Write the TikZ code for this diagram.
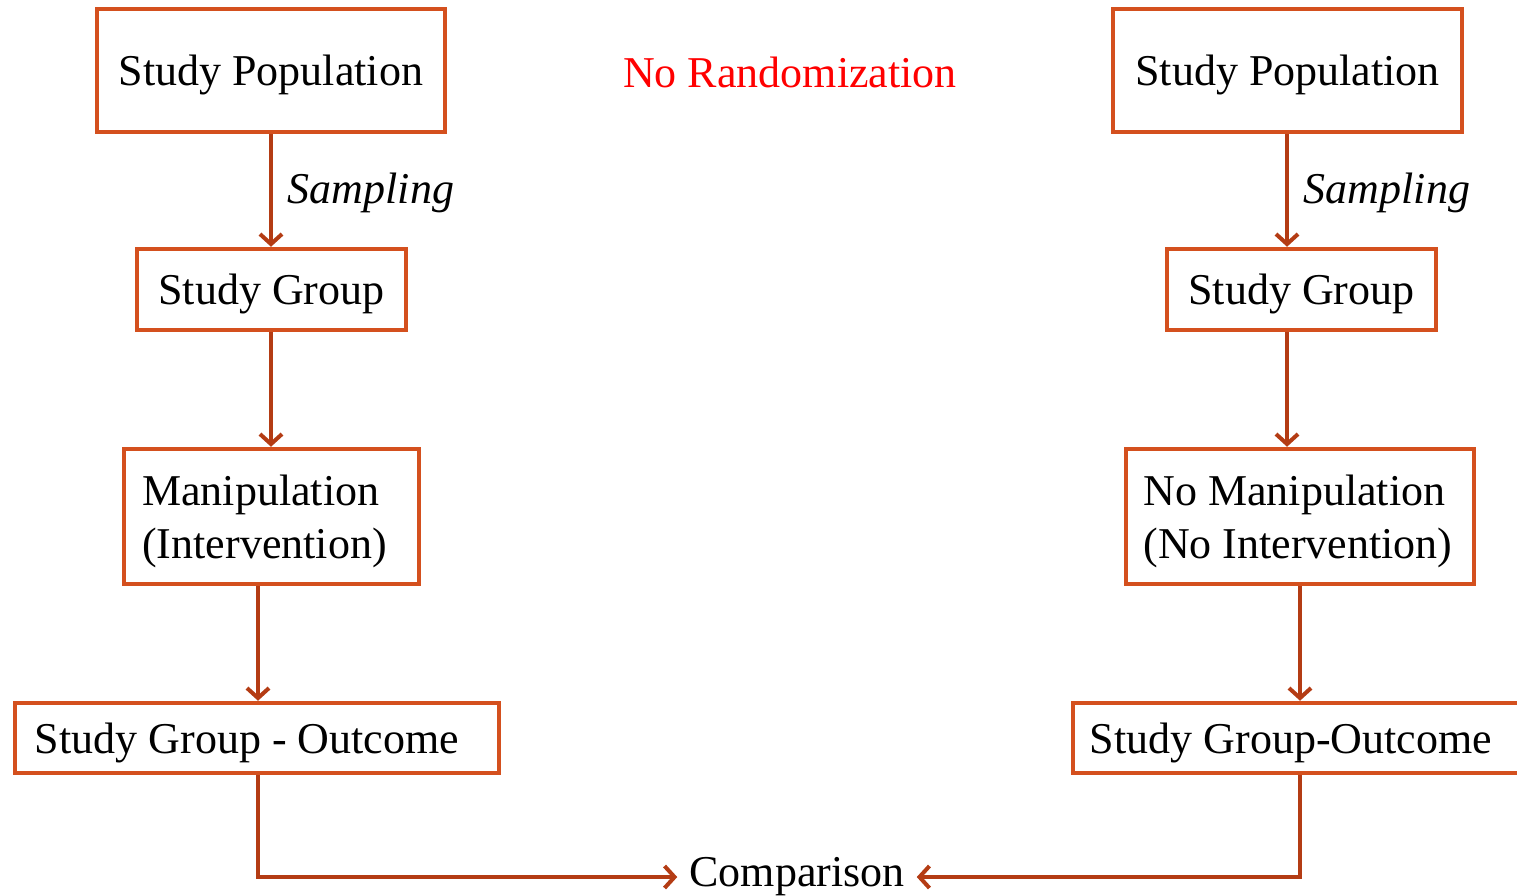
\documentclass[tikz,border=0pt]{standalone}
\usepackage{fontspec}
\setmainfont{Liberation Serif}
\usetikzlibrary{arrows.meta}
\definecolor{boxc}{RGB}{212,80,30}
\definecolor{arrc}{RGB}{180,60,20}
\begin{document}
\begin{tikzpicture}[x=1pt,y=-1pt,
  stagebox/.style={draw=boxc,line width=4.5pt,rectangle,inner sep=0pt,text depth=0pt,
    font=\fontsize{44}{53}\selectfont,align=left},
  flow/.style={draw=arrc,line width=4pt,-{Straight Barb[length=10pt,width=22pt]}},
  txt/.style={inner sep=0pt,font=\fontsize{44}{53}\selectfont}]
\useasboundingbox (0,0) rectangle (1517,895);

% left column
\node[stagebox,minimum width=348pt,minimum height=123pt] (l1) at (271,70.5) {Study Population};
\node[stagebox,minimum width=269pt,minimum height=81pt] (l2) at (271.5,289.5) {Study Group};
\node[stagebox,minimum width=295pt,minimum height=135pt] (l3) at (271.5,516.5) {Manipulation\\(Intervention)\hspace*{14pt}};
\node[stagebox,minimum width=484pt,minimum height=70pt] (l4) at (257,738) {Study Group - Outcome\hspace*{20pt}};

% right column
\node[stagebox,minimum width=349pt,minimum height=123pt] (r1) at (1287.5,70.5) {Study Population};
\node[stagebox,minimum width=269pt,minimum height=81pt] (r2) at (1301.5,289.5) {Study Group};
\node[stagebox,minimum width=348pt,minimum height=135pt] (r3) at (1300,516.5) {No Manipulation\\(No Intervention)\hspace*{4pt}};
\node[stagebox,minimum width=454pt,minimum height=70pt] (r4) at (1300,738) {Study Group-Outcome\hspace*{18pt}};

% labels
\node[txt,text=red] (norand) at (790,72) {No Randomization};
\node[txt,font=\fontsize{44}{53}\selectfont\itshape] (samp1) at (371,193) {Sampling};
\node[txt,font=\fontsize{44}{53}\selectfont\itshape] (samp2) at (1387,193) {Sampling};
\node[txt,inner xsep=12pt] (cmp) at (797,877) {Comparison};

% connectors, left
\draw[flow] (l1.south -| 271,0) -- (l2.north -| 271,0);
\draw[flow] (l2.south -| 271,0) -- (l3.north -| 271,0);
\draw[flow] (l3.south -| 258,0) -- (l4.north -| 258,0);
\draw[flow] (l4.south -| 258,0) |- (cmp.west);

% connectors, right
\draw[flow] (r1.south -| 1287,0) -- (r2.north -| 1287,0);
\draw[flow] (r2.south -| 1287,0) -- (r3.north -| 1287,0);
\draw[flow] (r3.south -| 1300,0) -- (r4.north -| 1300,0);
\draw[flow] (r4.south -| 1300,0) |- (cmp.east);
\end{tikzpicture}
\end{document}
